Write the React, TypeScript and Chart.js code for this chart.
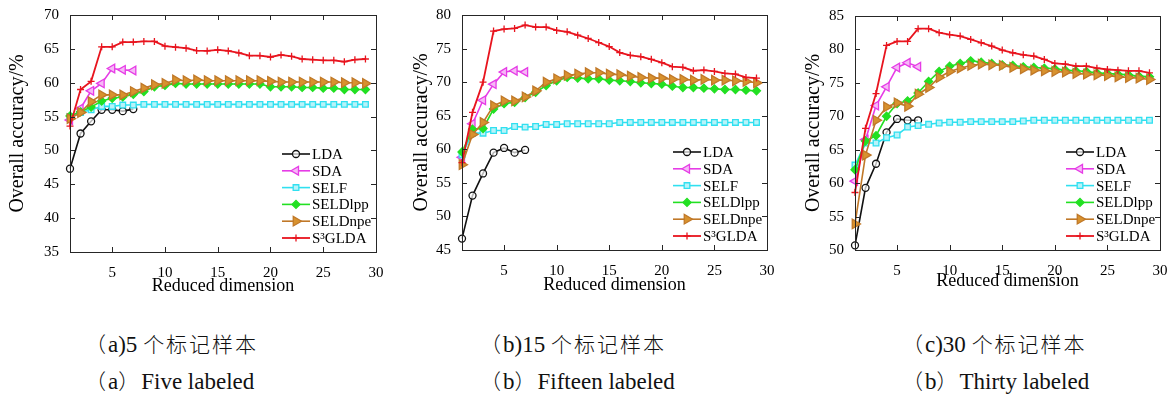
import React, { useEffect, useRef } from "react";
import { Chart, registerables } from "chart.js";
import { drawPoint } from "chart.js/helpers";

Chart.register(...registerables);

// ---------- data ----------
const DIMS = [1, 2, 3, 4, 5, 6, 7, 8, 9, 10, 11, 12, 13, 14, 15, 16, 17, 18, 19, 20, 21, 22, 23, 24, 25, 26, 27, 28, 29];
const X_TICKS = [5, 10, 15, 20, 25, 30];
const SERIES_NAMES = ["LDA", "SDA", "SELF", "SELDlpp", "SELDnpe", "S\u00B3GLDA"];

// (a) 5 labeled
const A_Y_TICKS = [35, 40, 45, 50, 55, 60, 65, 70];
const A_LDA = [47.3, 52.5, 54.3, 56.0, 56.0, 55.8, 56.1];
const A_SDA = [54.5, 56.2, 58.8, 59.9, 62.1, 61.9, 61.8];
const A_SELF = [55.0, 55.6, 56.0, 56.5, 56.5, 56.7, 56.7, 56.8, 56.8, 56.8, 56.8, 56.8, 56.8, 56.8, 56.8, 56.8, 56.8, 56.8, 56.8, 56.8, 56.8, 56.8, 56.8, 56.8, 56.8, 56.8, 56.8, 56.8, 56.8];
const A_LPP = [55.1, 55.7, 56.4, 57.3, 57.7, 57.9, 58.3, 58.7, 59.4, 59.6, 59.9, 59.8, 59.8, 59.8, 59.8, 59.8, 59.8, 59.8, 59.8, 59.4, 59.4, 59.4, 59.3, 59.3, 59.2, 59.2, 59.0, 59.0, 59.0];
const A_NPE = [54.7, 55.6, 57.2, 58.2, 58.2, 58.2, 58.7, 59.2, 59.7, 59.9, 60.4, 60.3, 60.4, 60.3, 60.3, 60.3, 60.3, 60.3, 60.3, 60.2, 60.1, 60.1, 60.1, 60.1, 60.1, 60.1, 60.0, 60.0, 59.9];
const A_S3G = [53.6, 59.0, 60.2, 65.3, 65.3, 66.0, 66.0, 66.1, 66.1, 65.4, 65.25, 65.1, 64.75, 64.7, 64.85, 64.7, 64.4, 64.0, 64.0, 63.8, 64.1, 63.9, 63.5, 63.4, 63.3, 63.3, 63.1, 63.4, 63.5];

// (b) 15 labeled
const B_Y_TICKS = [45, 50, 55, 60, 65, 70, 75, 80];
const B_LDA = [46.7, 53.1, 56.4, 59.5, 60.2, 59.5, 59.9];
const B_SDA = [58.8, 63.8, 67.3, 69.7, 71.5, 71.7, 71.5];
const B_SELF = [59.2, 62.4, 62.4, 62.8, 62.8, 63.4, 63.3, 63.4, 63.7, 63.7, 63.8, 63.8, 63.8, 63.8, 63.8, 64.0, 64.0, 64.0, 64.0, 64.0, 64.0, 64.0, 64.0, 64.0, 64.0, 64.0, 64.0, 64.0, 64.0];
const B_LPP = [59.6, 63.0, 63.1, 66.0, 66.8, 67.0, 67.7, 68.5, 69.5, 70.2, 70.7, 70.6, 70.5, 70.5, 70.3, 70.2, 70.1, 69.9, 69.8, 69.7, 69.4, 69.2, 69.2, 69.1, 69.0, 68.9, 68.9, 68.8, 68.7];
const B_NPE = [57.7, 62.2, 64.0, 66.5, 67.2, 67.2, 67.8, 68.7, 70.0, 70.5, 71.0, 71.2, 71.4, 71.4, 71.2, 71.1, 70.9, 70.7, 70.6, 70.6, 70.4, 70.4, 70.3, 70.4, 70.3, 70.3, 70.2, 70.1, 69.9];
const B_S3G = [58.0, 65.5, 70.0, 77.6, 77.9, 78.0, 78.5, 78.2, 78.2, 77.7, 77.5, 77.0, 76.5, 75.9, 75.3, 74.4, 74.0, 73.8, 73.4, 72.9, 72.3, 72.2, 71.7, 71.8, 71.6, 71.3, 71.2, 70.7, 70.6];

// (c) 30 labeled
const C_Y_TICKS = [50, 55, 60, 65, 70, 75, 80, 85];
const C_LDA = [50.7, 59.3, 62.9, 67.6, 69.6, 69.4, 69.4];
const C_SDA = [60.3, 66.5, 71.6, 74.4, 77.3, 78.0, 77.4];
const C_SELF = [62.7, 66.0, 66.0, 66.8, 67.2, 68.4, 68.6, 68.8, 69.0, 69.1, 69.1, 69.2, 69.2, 69.2, 69.2, 69.2, 69.3, 69.4, 69.4, 69.4, 69.4, 69.4, 69.4, 69.4, 69.4, 69.4, 69.4, 69.4, 69.4];
const C_LPP = [62.0, 66.3, 67.1, 70.0, 71.9, 72.3, 73.5, 75.2, 76.7, 77.5, 77.9, 78.3, 78.1, 77.9, 77.7, 77.6, 77.4, 77.3, 77.2, 77.1, 76.9, 76.8, 76.7, 76.5, 76.4, 76.3, 76.2, 76.0, 75.9];
const C_NPE = [53.9, 64.2, 69.4, 71.4, 72.0, 71.5, 73.3, 74.3, 75.8, 76.7, 77.2, 77.6, 77.8, 77.7, 77.6, 77.3, 77.1, 76.9, 76.8, 76.7, 76.6, 76.4, 76.3, 76.2, 76.1, 75.9, 75.8, 75.7, 75.5];
const C_S3G = [58.6, 68.2, 73.4, 80.6, 81.2, 81.2, 83.1, 83.1, 82.5, 82.2, 82.0, 81.5, 81.0, 80.5, 79.9, 79.5, 79.2, 79.0, 78.5, 77.9, 77.8, 77.5, 77.5, 77.2, 77.0, 76.9, 76.8, 76.8, 76.5];

const CAPTIONS_CN_HEAD = ["a)5 ", "b)15 ", "c)30 "];
const CAPTION_CN_TAIL = "个标记样本";
const CAPTIONS_EN_HEAD = ["a", "b", "b"];
const CAPTIONS_EN_TAIL = ["Five labeled", "Fifteen labeled", "Thirty labeled"];

// ---------- styles ----------
const SERIES_STYLE = [
  { color: "#111111", fill: "rgba(255,255,255,0.7)", pointStyle: "circle", rotation: 0, radius: 3.5, lw: 1.6 },
  { color: "#e63ce6", fill: "#f6b8f6", pointStyle: "triangle", rotation: -90, radius: 5, lw: 1.6 },
  { color: "#30e0f0", fill: "#b8f3f9", pointStyle: "rect", rotation: 0, radius: 4, lw: 1.6 },
  { color: "#22e022", fill: "#22e022", pointStyle: "rectRot", rotation: 0, radius: 4, lw: 1.6 },
  { color: "#c07828", fill: "#d8922e", pointStyle: "triangle", rotation: 90, radius: 5.5, lw: 1.6 },
  { color: "#e8141e", fill: "#e8141e", pointStyle: "cross", rotation: 0, radius: 3.5, lw: 1.8 },
];

const FONT = "'Liberation Serif', 'Times New Roman', serif";
const CJK_FONT = "'Noto Sans CJK SC', sans-serif";

const PANELS = [
  { left: 0, width: 390, plotL: 70, plotR: 376, plotT: 15, plotB: 252, yTitleX: 17.5, xTitleY: 286, yTicks: A_Y_TICKS, series: [A_LDA, A_SDA, A_SELF, A_LPP, A_NPE, A_S3G], capLeft: 85 },
  { left: 390, width: 390, plotL: 72, plotR: 377, plotT: 15, plotB: 250, yTitleX: 31.5, xTitleY: 285, yTicks: B_Y_TICKS, series: [B_LDA, B_SDA, B_SELF, B_LPP, B_NPE, B_S3G], capLeft: 480 },
  { left: 780, width: 393, plotL: 75, plotR: 380, plotT: 16, plotB: 250, yTitleX: 34, xTitleY: 281, yTicks: C_Y_TICKS, series: [C_LDA, C_SDA, C_SELF, C_LPP, C_NPE, C_S3G], capLeft: 902 },
];

const CANVAS_H = 300;

const boxPlugin = {
  id: "matlabBox",
  afterDraw(chart: any) {
    const { ctx, chartArea } = chart;
    const { left, right, top, bottom } = chartArea;
    const xs = chart.scales.x;
    const ys = chart.scales.y;
    ctx.save();
    ctx.strokeStyle = "#262626";
    ctx.lineWidth = 1;
    ctx.strokeRect(left + 0.5, top + 0.5, right - left, bottom - top);
    const tl = 5;
    ctx.beginPath();
    xs.ticks.forEach((t: any) => {
      const px = Math.round(xs.getPixelForValue(t.value)) + 0.5;
      ctx.moveTo(px, bottom);
      ctx.lineTo(px, bottom - tl);
      ctx.moveTo(px, top);
      ctx.lineTo(px, top + tl);
    });
    ys.ticks.forEach((t: any) => {
      const py = Math.round(ys.getPixelForValue(t.value)) + 0.5;
      ctx.moveTo(left, py);
      ctx.lineTo(left + tl, py);
      ctx.moveTo(right, py);
      ctx.lineTo(right - tl, py);
    });
    ctx.stroke();

    // legend (inside plot, lower right, no box)
    const lx = right - 94;
    const ly0 = bottom - 98;
    const step = 16.8;
    ctx.font = `15px ${FONT}`;
    ctx.textBaseline = "middle";
    ctx.textAlign = "left";
    chart.data.datasets.forEach((ds: any, i: number) => {
      const y = ly0 + i * step;
      ctx.strokeStyle = ds.borderColor;
      ctx.lineWidth = ds.borderWidth;
      ctx.beginPath();
      ctx.moveTo(lx, y);
      ctx.lineTo(lx + 28, y);
      ctx.stroke();
      ctx.fillStyle = ds.pointBackgroundColor;
      ctx.strokeStyle = ds.borderColor;
      ctx.lineWidth = ds.pointBorderWidth;
      drawPoint(ctx, { pointStyle: ds.pointStyle, rotation: ds.pointRotation, radius: ds.pointRadius, borderWidth: ds.pointBorderWidth }, lx + 14, y);
      ctx.fillStyle = "#000";
      ctx.fillText(ds.label, lx + 30, y + 1);
    });
    ctx.restore();
  },
};

function Panel({ p }: { p: any }) {
  const ref = useRef<HTMLCanvasElement | null>(null);
  useEffect(() => {
    if (!ref.current) return;
    const datasets = p.series.map((vals: number[], i: number) => {
      const s = SERIES_STYLE[i];
      return {
        label: SERIES_NAMES[i],
        data: vals.map((v, k) => ({ x: DIMS[k], y: v })),
        borderColor: s.color,
        backgroundColor: s.fill,
        borderWidth: s.lw,
        pointStyle: s.pointStyle,
        pointRotation: s.rotation,
        pointRadius: s.radius,
        pointBackgroundColor: s.fill,
        pointBorderColor: s.color,
        pointBorderWidth: 1.3,
        tension: 0,
        clip: false,
        order: SERIES_NAMES.length - i,
      };
    });
    const chart = new Chart(ref.current, {
      type: "line",
      data: { datasets },
      options: {
        animation: false,
        responsive: false,
        devicePixelRatio: 1,
        layout: { padding: { left: 0, right: p.width - p.plotR, top: p.plotT, bottom: 0 } },
        plugins: { legend: { display: false }, tooltip: { enabled: false } },
        scales: {
          x: {
            type: "linear",
            min: 1,
            max: 30,
            afterBuildTicks: (s: any) => {
              s.ticks = X_TICKS.map((v) => ({ value: v }));
            },
            afterFit: (s: any) => {
              s.height = CANVAS_H - p.plotB;
            },
            grid: { display: false },
            border: { display: false },
            ticks: { color: "#000", font: { family: FONT, size: 15 }, padding: 4, maxRotation: 0, autoSkip: false },
            title: {
              display: true,
              text: "Reduced dimension",
              color: "#000",
              font: { family: FONT, size: 18 },
              padding: { top: 0, bottom: CANVAS_H - p.xTitleY - 10.8 },
            },
          },
          y: {
            type: "linear",
            min: p.yTicks[0],
            max: p.yTicks[p.yTicks.length - 1],
            afterBuildTicks: (s: any) => {
              s.ticks = p.yTicks.map((v: number) => ({ value: v }));
            },
            afterFit: (s: any) => {
              s.width = p.plotL;
            },
            grid: { display: false },
            border: { display: false },
            ticks: { color: "#000", font: { family: FONT, size: 15 }, padding: 3 },
            title: {
              display: true,
              text: "Overall accuracy/%",
              color: "#000",
              font: { family: FONT, size: 20 },
              padding: { top: p.yTitleX - 12, bottom: 0 },
            },
          },
        },
      },
      plugins: [boxPlugin],
    } as any);
    return () => chart.destroy();
  }, [p]);
  return (
    <canvas
      ref={ref}
      width={p.width}
      height={CANVAS_H}
      style={{ position: "absolute", left: p.left, top: 0, width: p.width, height: CANVAS_H }}
    />
  );
}

export default function App() {
  const capStyle: React.CSSProperties = {
    position: "absolute",
    fontFamily: FONT,
    fontSize: 23,
    lineHeight: "24px",
    color: "#111",
    whiteSpace: "nowrap",
  };
  const cjk: React.CSSProperties = {
    fontFamily: CJK_FONT,
    fontSize: 21,
    letterSpacing: 2,
    fontWeight: 300,
  };
  return (
    <div style={{ position: "fixed", left: 0, top: 0, width: 1173, height: 394, background: "#fff", overflow: "hidden" }}>
      {PANELS.map((p, i) => (
        <Panel key={i} p={p} />
      ))}
      {PANELS.map((p, i) => (
        <div key={"cn" + i} style={{ ...capStyle, left: p.capLeft, top: 331 }}>
          <span style={cjk}>{"\uFF08"}</span>
          {CAPTIONS_CN_HEAD[i]}
          <span style={cjk}>{CAPTION_CN_TAIL}</span>
        </div>
      ))}
      {PANELS.map((p, i) => (
        <div key={"en" + i} style={{ ...capStyle, left: p.capLeft, top: 368 }}>
          <span style={cjk}>{"\uFF08"}</span>
          {CAPTIONS_EN_HEAD[i]}
          <span style={cjk}>{"\uFF09"}</span>
          {CAPTIONS_EN_TAIL[i]}
        </div>
      ))}
    </div>
  );
}
